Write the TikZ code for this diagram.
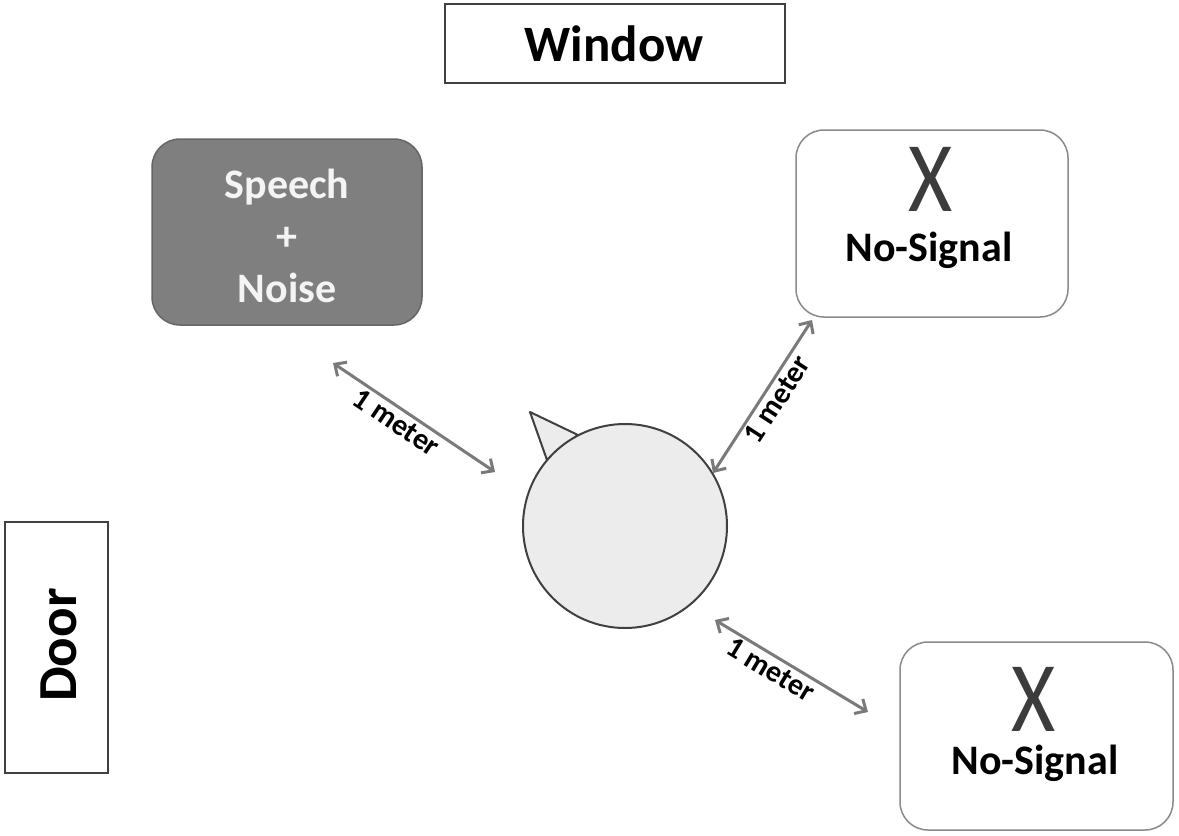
\documentclass[tikz,border=0pt]{standalone}
\usepackage{fontspec}
\setmainfont{Carlito}
\usetikzlibrary{arrows.meta}
\definecolor{boxline}{HTML}{404040}
\definecolor{softline}{HTML}{8A8A8A}
\definecolor{darkfill}{HTML}{7F7F7F}
\definecolor{lighttext}{HTML}{F4F4F4}
\definecolor{headfill}{HTML}{ECECEC}
\definecolor{arrowgray}{HTML}{7A7A7A}
\definecolor{xgray}{HTML}{3C3C3C}
\begin{document}
\begin{tikzpicture}[x=1pt,y=-1pt,
  wallbox/.style={draw=boxline, line width=2.5pt, fill=white, inner sep=0pt},
  roundbox/.style={draw=softline, line width=1.5pt, rounded corners=28pt, inner sep=0pt},
  meterarrow/.style={draw=arrowgray, line width=3pt, {Straight Barb[length=9pt,width=17pt]}-{Straight Barb[length=9pt,width=17pt]}},
  meterlabel/.style={font=\fontsize{30}{32}\selectfont\bfseries, text=black, sloped, inner sep=2.5pt},
  bigx/.style={font=\fontsize{100}{100}\selectfont, text=xgray, inner sep=0pt, xscale=0.85},
  nosig/.style={font=\fontsize{42}{44}\selectfont\bfseries, text=black, inner sep=0pt}
]
\useasboundingbox (0,0) rectangle (1179,836);
\fill[white] (0,0) rectangle (1179,836);

% walls
\node[wallbox, minimum width=340pt, minimum height=79pt] (window) at (615,43.5) {};
\node[font=\fontsize{51}{51}\selectfont\bfseries] (windowtxt) at (614,44) {Window};
\node[wallbox, minimum width=103pt, minimum height=251pt] (door) at (56.5,647.5) {};
\node[font=\fontsize{55}{55}\selectfont\bfseries, rotate=90] (doortxt) at (59,645) {Door};

% speech + noise
\node[roundbox, fill=darkfill, draw=darkfill!80!black, minimum width=270pt, minimum height=186pt] (speech) at (287,232) {};
\node[font=\fontsize{42}{52}\selectfont\bfseries, text=lighttext, align=center] (speechtxt) at (287,236) {Speech\\+\\Noise};

% no-signal top right
\node[roundbox, fill=white, minimum width=272pt, minimum height=187pt] (ns1) at (932,223.5) {};
\node[bigx] (x1) at (931,179) {X};
\node[nosig] (ns1txt) at (929,250) {No-Signal};

% no-signal bottom right
\node[roundbox, fill=white, minimum width=273pt, minimum height=188pt] (ns2) at (1036.5,736) {};
\node[bigx] (x2) at (1034,699) {X};
\node[nosig] (ns2txt) at (1035,763) {No-Signal};

% head
\filldraw[fill=headfill, draw=boxline, line width=2pt, line join=round] (530,412) -- (578,435) -- (547,460) -- cycle;
\node[circle, fill=headfill, draw=boxline, line width=2pt, minimum size=204pt, inner sep=0pt] (head) at (625,526) {};

% arrows
\coordinate (a1s) at (333,363);
\coordinate (a1e) at (495,472);
\coordinate (a2s) at (713,473);
\coordinate (a2e) at (812,320);
\coordinate (a3s) at (715,620);
\coordinate (a3e) at (868,712);
\draw[meterarrow] (a1s) -- node[meterlabel, pos=0.44, below] (l1) {1 meter} (a1e);
\draw[meterarrow] (a2s) -- node[meterlabel, pos=0.53, below] (l2) {1 meter} (a2e);
\draw[meterarrow] (a3s) -- node[meterlabel, pos=0.41, below] (l3) {1 meter} (a3e);
\end{tikzpicture}
\end{document}
